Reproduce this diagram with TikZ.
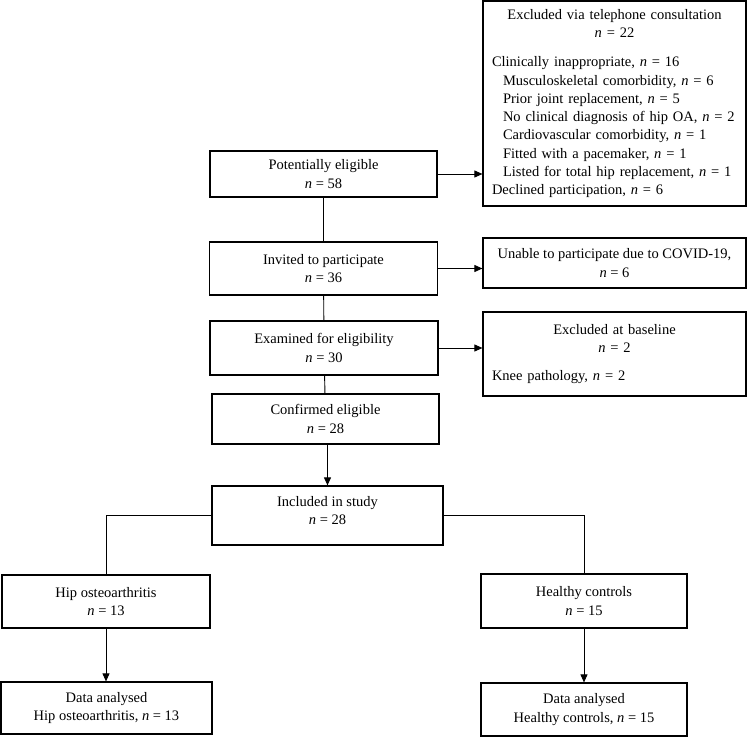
\documentclass[tikz,border=0pt]{standalone}
\usepackage{fontspec}
\setmainfont{Liberation Serif}
\usetikzlibrary{arrows.meta}

\begin{document}
\begin{tikzpicture}[x=1pt, y=-1pt, >={Triangle[length=8pt,width=7pt]},
  font=\fontsize{14.5}{18.3}\selectfont,
  box/.style={draw, line width=1.2pt, align=center, inner sep=2pt},
  side/.style={box, align=left, text width=245pt, inner xsep=9pt},
  link/.style={line width=0.9pt}]
  \useasboundingbox (0,0) rectangle (750,737);
  % screening column
  \node[box, minimum width=227pt, minimum height=46pt] (pot) at (323.5,174) {Potentially eligible\\ \textit{n} = 58};
  \node[box, minimum width=228pt, minimum height=53pt] (inv) at (323.5,268.5) {Invited to participate\\ \textit{n} = 36};
  \node[box, minimum width=228pt, minimum height=54pt] (exam) at (324,348) {Examined for eligibility\\ \textit{n} = 30};
  \node[box, minimum width=227pt, minimum height=50pt] (conf) at (325.5,419) {Confirmed eligible\\ \textit{n} = 28};
  % exclusions
  \node[side, minimum height=205pt] (excl1) at (614.5,103.5) {%
    {\centering Excluded via telephone consultation\\ \textit{n} = 22\par}
    \vspace{11pt}
    Clinically inappropriate, \textit{n} = 16\\
    \hspace*{11pt}Musculoskeletal comorbidity, \textit{n} = 6\\
    \hspace*{11pt}Prior joint replacement, \textit{n} = 5\\
    \hspace*{11pt}No clinical diagnosis of hip OA, \textit{n} = 2\\
    \hspace*{11pt}Cardiovascular comorbidity, \textit{n} = 1\\
    \hspace*{11pt}Fitted with a pacemaker, \textit{n} = 1\\
    \hspace*{11pt}Listed for total hip replacement, \textit{n} = 1\\
    Declined participation, \textit{n} = 6};
  \node[box, minimum width=263pt, minimum height=50pt] (unable) at (614.5,263) {Unable to participate due to COVID-19,\\ \textit{n} = 6};
  \node[side, minimum height=84pt] (excl2) at (614.5,354) {%
    {\centering Excluded at baseline\\ \textit{n} = 2\par}
    \vspace{10pt}
    Knee pathology, \textit{n} = 2};
  % groups
  \node[box, minimum width=231pt, minimum height=59pt] (incl) at (327.5,515.5) {Included in study\\ \textit{n} = 28\rule[-10pt]{0pt}{10pt}};
  \node[box, minimum width=208pt, minimum height=53pt] (hip) at (106,601.5) {Hip osteoarthritis\\ \textit{n} = 13};
  \node[box, minimum width=206pt, minimum height=54pt] (healthy) at (584,601) {Healthy controls\\ \textit{n} = 15};
  \node[box, minimum width=211pt, minimum height=52pt] (da1) at (106.5,708) {Data analysed\\ Hip osteoarthritis, \textit{n} = 13};
  \node[box, minimum width=206pt, minimum height=53pt] (da2) at (584,709.5) {Data analysed\\ Healthy controls, \textit{n} = 15};
  % connectors
  \draw[link, ->] (pot.east) -- (pot.east -| excl1.west);
  \draw[link, ->] (inv.east) -- (inv.east -| unable.west);
  \draw[link, ->] (exam.east) -- (exam.east -| excl2.west);
  \draw[link] (pot) -- (inv);
  \draw[link] (inv) -- (exam);
  \draw[link] (exam) -- (conf);
  \draw[link, ->] (incl.north |- conf.south) -- (incl.north);
  \draw[link] (incl.west) -| (hip.north);
  \draw[link] (incl.east) -| (healthy.north);
  \draw[link, ->] (hip.south) -- (hip.south |- da1.north);
  \draw[link, ->] (healthy.south) -- (healthy.south |- da2.north);
\end{tikzpicture}
\end{document}
